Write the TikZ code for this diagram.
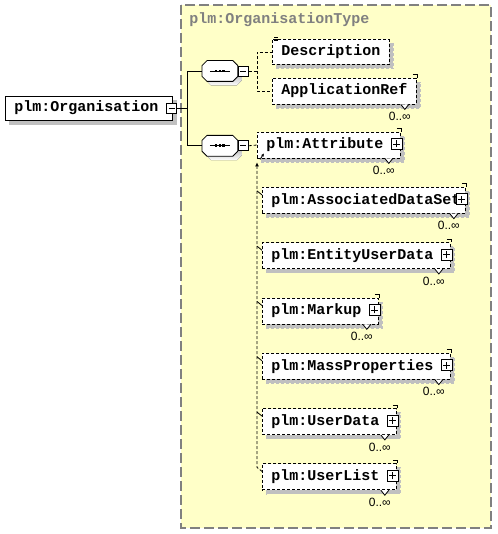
\documentclass[tikz,border=0pt]{standalone}
\usepackage{fontspec}
\setmonofont{Liberation Mono}
\setsansfont{Liberation Sans}
\usetikzlibrary{positioning,shadows,arrows.meta}

\definecolor{typebg}{RGB}{255,255,200}
\definecolor{typeline}{RGB}{128,128,128}
\definecolor{shade}{RGB}{192,192,192}

% marks of an element that may occur many times
\newcommand\manyof[1]{%
  \draw ([xshift=-4pt,yshift=3pt]#1.north east) -- ([xshift=1pt,yshift=3pt]#1.north east)
        -- ([xshift=1pt]#1.north east);
  \draw[fill=white] ([xshift=-16pt]#1.south east) -- ++(4,5) -- ++(4,-5);
  \node[card] at ([xshift=-17pt,yshift=-12pt]#1.south east) {0..∞};
}
% octagon of a sequence, drawn round its node
\newcommand\octpath[1]{([xshift=5pt]#1.north west) -- ([xshift=-5pt]#1.north east) -- ([yshift=-5pt]#1.north east)
      -- ([yshift=5pt]#1.south east) -- ([xshift=-5pt]#1.south east) -- ([xshift=5pt]#1.south west)
      -- ([yshift=5pt]#1.south west) -- ([yshift=-5pt]#1.north west) -- cycle}
\newcommand\seqshape[1]{%
  \fill[shade,transform canvas={xshift=4pt,yshift=-4pt}] \octpath{#1};
  \draw[fill=white] \octpath{#1};
  \draw ([xshift=-10pt]#1.center) -- ([xshift=10pt]#1.center);
  \fill ([xshift=-3.8pt]#1.center) +(-1.3,-1.3) rectangle +(1.3,1.3);
  \fill (#1.center) +(-1.3,-1.3) rectangle +(1.3,1.3);
  \fill ([xshift=3.8pt]#1.center) +(-1.3,-1.3) rectangle +(1.3,1.3);
}

\begin{document}
\begin{tikzpicture}[x=1pt,y=-1pt,line width=0.8pt,
    boxshadow/.style={drop shadow={shadow xshift=4pt,shadow yshift=-4pt,fill=shade,draw=shade,opacity=1}},
    elem/.style={draw,fill=white,rectangle,inner xsep=9pt,inner ysep=3pt,minimum height=26pt,
      font=\ttfamily\bfseries\fontsize{15}{15}\selectfont,boxshadow},
    opt/.style={elem,dash pattern=on 3pt off 2pt},
    seq/.style={rectangle,inner sep=0pt,minimum width=35pt,minimum height=20pt},
    minusbox/.style={draw,fill=white,rectangle,minimum size=10pt,inner sep=0pt,
      path picture={\draw ([xshift=-3pt]path picture bounding box.center) -- ([xshift=3pt]path picture bounding box.center);}},
    plusbox/.style={minusbox,minimum size=11pt,
      path picture={
        \draw ([xshift=-3.5pt]path picture bounding box.center) -- ([xshift=3.5pt]path picture bounding box.center);
        \draw ([yshift=-3.5pt]path picture bounding box.center) -- ([yshift=3.5pt]path picture bounding box.center);
      }},
    card/.style={font=\sffamily\fontsize{12}{12}\selectfont,inner sep=0pt},
    title/.style={font=\ttfamily\bfseries\fontsize{15}{15}\selectfont,text=typeline,inner sep=0pt},
    link/.style={dash pattern=on 3pt off 2pt}]
  \useasboundingbox (0,0) rectangle (497,534);

  % the complex type
  \draw[typeline,fill=typebg,line width=1.3pt,dash pattern=on 10pt off 4pt] (181,5) rectangle (491,528);
  \node[title,anchor=west] (typename) at (189,20) {plm:OrganisationType};

  % root element
  \node[elem,minimum height=24pt,anchor=west] (org) at (5,108) {plm:Organisation\kern5pt};
  \node[minusbox] (orgm) at ([xshift=-1pt]org.east) {};

  % sequences
  \node[seq,anchor=west] (seq1) at (202,71) {};
  \seqshape{seq1}
  \node[minusbox,anchor=west] (seq1m) at (seq1.east) {};
  \node[seq,below=54pt of seq1] (seq2) {};
  \seqshape{seq2}
  \node[minusbox,anchor=west] (seq2m) at (seq2.east) {};

  \coordinate (fork) at (187,108);
  \draw (orgm.east) -- (fork) |- (seq1.west);
  \draw (fork) |- (seq2.west);

  % first sequence
  \node[opt,minimum height=25pt,anchor=west] (desc) at (272,52) {Description};
  \node[opt,anchor=west] (appref) at (272,91) {ApplicationRef};
  \manyof{appref}
  \foreach \k in {0,1.5,3}
    \draw[line width=0.6pt] ([xshift=2pt,yshift=1.5pt-\k pt]desc.north west) -- ++(4,0);

  \coordinate (split1) at (257,71);
  \draw[link] (seq1m.east) -- (split1) |- (desc.west);
  \draw[link] (split1) |- (appref.west);

  % second sequence
  \node[opt,anchor=west] (attr) at (257,145) {plm:Attribute\kern8pt};
  \node[opt,below=55.3pt of attr.west,anchor=west,xshift=5pt] (assoc) {plm:AssociatedDataSet\kern-4pt};
  \node[opt,below=55.3pt of assoc.west,anchor=west] (entity) {plm:EntityUserData\kern8pt};
  \node[opt,below=55.3pt of entity.west,anchor=west] (markup) {plm:Markup\kern8pt};
  \node[opt,below=55.3pt of markup.west,anchor=west] (mass) {plm:MassProperties\kern8pt};
  \node[opt,below=55.3pt of mass.west,anchor=west] (udata) {plm:UserData\kern8pt};
  \node[opt,below=55.3pt of udata.west,anchor=west] (ulist) {plm:UserList\kern8pt};

  \foreach \c in {attr,assoc,entity,markup,mass,udata,ulist} {
    \node[plusbox] (\c p) at ([xshift=-4pt,yshift=1pt]\c.east) {};
    \manyof{\c}
  }

  \draw[link] (seq2m.east) -- (attr.west);
  \draw[-{Latex[length=3pt,width=3pt]}] ([xshift=3pt,yshift=-1pt]attr.south west) -- ([xshift=7pt,yshift=5pt]attr.south west);
  \draw[link,{Latex[length=4pt,width=4pt]}-] ([yshift=-4pt]attr.south west)
    -- ([xshift=-5pt,yshift=-4pt]ulist.north west) -- ([yshift=-8pt]ulist.north west);
  \foreach \c in {assoc,entity,markup,mass,udata}
    \draw ([xshift=-5pt,yshift=-4pt]\c.north west) -- ([yshift=-8pt]\c.north west);
\end{tikzpicture}
\end{document}
